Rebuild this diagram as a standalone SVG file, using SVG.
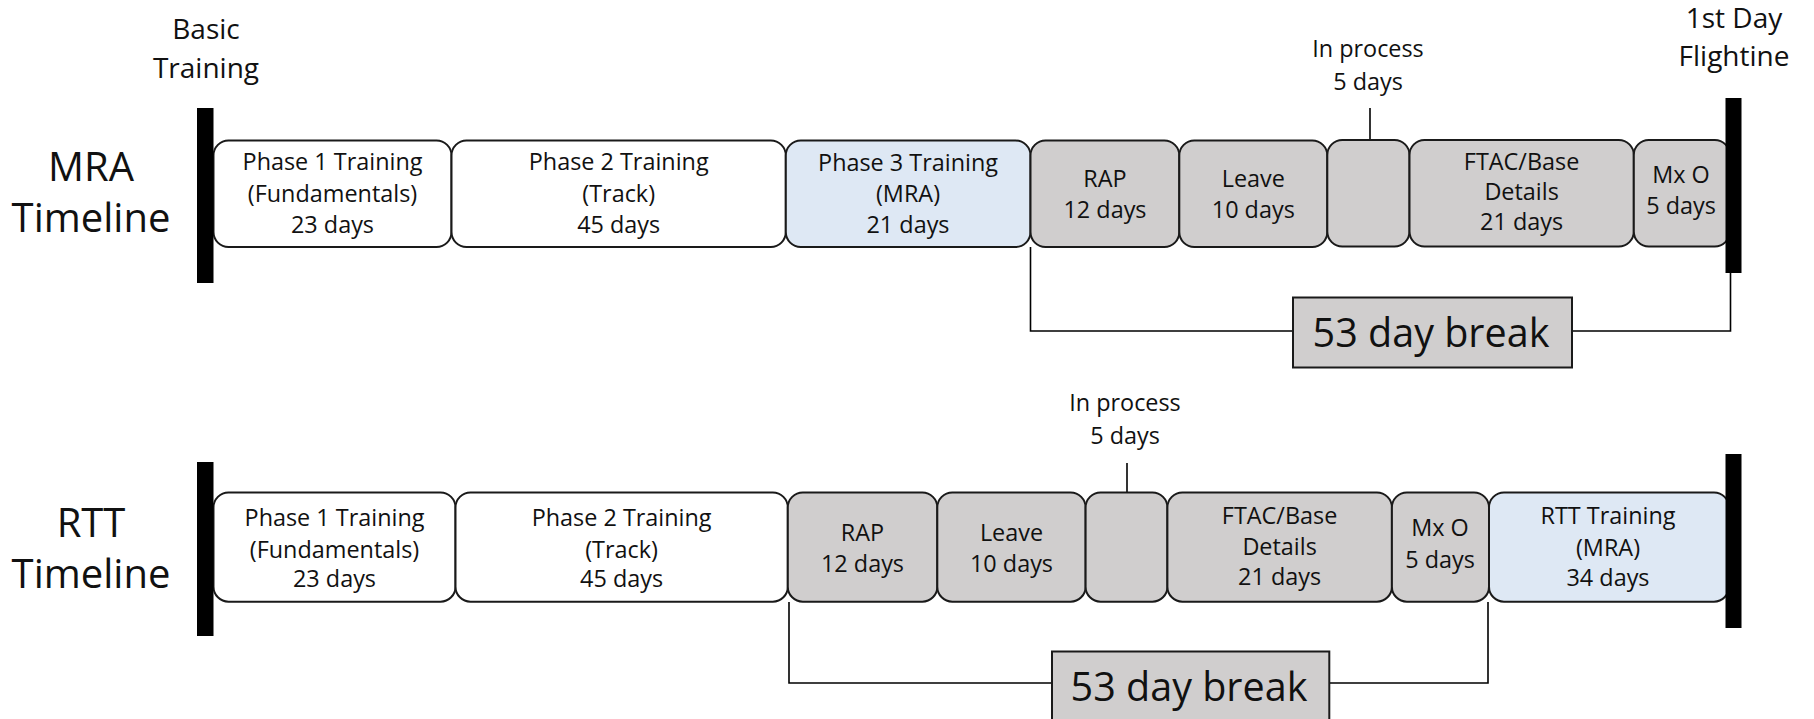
<svg xmlns="http://www.w3.org/2000/svg" width="1814" height="719" viewBox="0 0 1814 719">
<style>
text{font-family:"Open Sans","Liberation Sans",sans-serif;fill:#111;text-anchor:middle}
.t{font-size:23.4px}
.h{font-size:28px}
.lab{font-size:40px}
.brk{font-size:39.5px}
.box{stroke:#1a1a1a;stroke-width:2}
.w{fill:#ffffff}
.g{fill:#d0cece}
.b{fill:#dee8f4}
.bar{fill:#000}
.ln{fill:none;stroke:#000;stroke-width:1.6}
</style>
<rect width="1814" height="719" fill="#fff"/>

<g id="labels">
<text class="h" x="206" y="39">Basic</text>
<text class="h" x="206" y="78">Training</text>
<text class="h" x="1734" y="28">1st Day</text>
<text class="h" x="1734" y="66">Flightine</text>
<text class="lab" x="91" y="181">MRA</text>
<text class="lab" x="91" y="232">Timeline</text>
<text class="lab" x="91" y="537">RTT</text>
<text class="lab" x="91" y="588">Timeline</text>
</g>

<g id="connectors">
<path class="ln" d="M1030.5 247 V331 H1293 M1572 331 H1730.5 V273"/>
<path class="ln" d="M1370 108 V140"/>
<path class="ln" d="M789 602 V683 H1052 M1329 683 H1488 V602"/>
<path class="ln" d="M1127 463 V492.5"/>
</g>

<g id="mra-phase1"><rect class="box w" x="213.5" y="140.5" width="238" height="106.5" rx="15"/>
<text class="t" x="332.5" y="170">Phase 1 Training</text><text class="t" x="332.5" y="201.5">(Fundamentals)</text><text class="t" x="332.5" y="232.5">23 days</text></g>
<g id="mra-phase2"><rect class="box w" x="451.5" y="140.5" width="334.3" height="106.5" rx="15"/>
<text class="t" x="618.7" y="170">Phase 2 Training</text><text class="t" x="618.7" y="201.5">(Track)</text><text class="t" x="618.7" y="232.5">45 days</text></g>
<g id="mra-phase3"><rect class="box b" x="785.8" y="140.5" width="244.7" height="106.5" rx="15"/>
<text class="t" x="908" y="171">Phase 3 Training</text><text class="t" x="908" y="202">(MRA)</text><text class="t" x="908" y="232.5">21 days</text></g>
<g id="mra-rap"><rect class="box g" x="1030.5" y="140.5" width="148.8" height="106.5" rx="15"/>
<text class="t" x="1105" y="187">RAP</text><text class="t" x="1105" y="218">12 days</text></g>
<g id="mra-leave"><rect class="box g" x="1179.3" y="140.5" width="148" height="106.5" rx="15"/>
<text class="t" x="1253.3" y="187">Leave</text><text class="t" x="1253.3" y="218">10 days</text></g>
<g id="mra-inprocess"><rect class="box g" x="1327.3" y="140" width="82.2" height="106.5" rx="15"/>
<text class="t" x="1368" y="57">In process</text><text class="t" x="1368" y="90">5 days</text></g>
<g id="mra-ftac"><rect class="box g" x="1409.5" y="140" width="224.3" height="106.5" rx="15"/>
<text class="t" x="1521.6" y="169.5">FTAC/Base</text><text class="t" x="1521.6" y="200">Details</text><text class="t" x="1521.6" y="230">21 days</text></g>
<g id="mra-mxo"><rect class="box g" x="1633.8" y="140" width="96" height="106.5" rx="15"/>
<text class="t" x="1681" y="183">Mx O</text><text class="t" x="1681" y="213.5">5 days</text></g>
<g id="mra-break"><rect class="box g" x="1293" y="297.5" width="279" height="70"/>
<text class="brk" x="1431" y="346.5">53 day break</text></g>

<g id="rtt-phase1"><rect class="box w" x="213.5" y="492.5" width="242" height="109.2" rx="15"/>
<text class="t" x="334.5" y="525.5">Phase 1 Training</text><text class="t" x="334.5" y="557.5">(Fundamentals)</text><text class="t" x="334.5" y="587">23 days</text></g>
<g id="rtt-phase2"><rect class="box w" x="455.5" y="492.5" width="332.3" height="109.2" rx="15"/>
<text class="t" x="621.6" y="525.5">Phase 2 Training</text><text class="t" x="621.6" y="557.5">(Track)</text><text class="t" x="621.6" y="587">45 days</text></g>
<g id="rtt-rap"><rect class="box g" x="787.8" y="492.5" width="149.5" height="109.2" rx="15"/>
<text class="t" x="862.5" y="541">RAP</text><text class="t" x="862.5" y="572">12 days</text></g>
<g id="rtt-leave"><rect class="box g" x="937.3" y="492.5" width="148.3" height="109.2" rx="15"/>
<text class="t" x="1011.5" y="541">Leave</text><text class="t" x="1011.5" y="572">10 days</text></g>
<g id="rtt-inprocess"><rect class="box g" x="1085.6" y="492.5" width="81.8" height="109.2" rx="15"/>
<text class="t" x="1125" y="411">In process</text><text class="t" x="1125" y="443.5">5 days</text></g>
<g id="rtt-ftac"><rect class="box g" x="1167.4" y="492.5" width="224.5" height="109.2" rx="15"/>
<text class="t" x="1279.6" y="524">FTAC/Base</text><text class="t" x="1279.6" y="555">Details</text><text class="t" x="1279.6" y="585">21 days</text></g>
<g id="rtt-mxo"><rect class="box g" x="1391.9" y="492.5" width="97.1" height="109.2" rx="15"/>
<text class="t" x="1440" y="536">Mx O</text><text class="t" x="1440" y="568">5 days</text></g>
<g id="rtt-training"><rect class="box b" x="1489" y="492.5" width="240" height="109.2" rx="15"/>
<text class="t" x="1608" y="524">RTT Training</text><text class="t" x="1608" y="556">(MRA)</text><text class="t" x="1608" y="586">34 days</text></g>
<g id="rtt-break"><rect class="box g" x="1052" y="651.5" width="277.3" height="80"/>
<text class="brk" x="1189" y="700.5">53 day break</text></g>

<g id="bars">
<rect class="bar" x="197" y="108" width="16.5" height="175"/>
<rect class="bar" x="1725.5" y="98" width="16" height="175"/>
<rect class="bar" x="197" y="462" width="16.5" height="174"/>
<rect class="bar" x="1725.5" y="454" width="16" height="174"/>
</g>
</svg>
